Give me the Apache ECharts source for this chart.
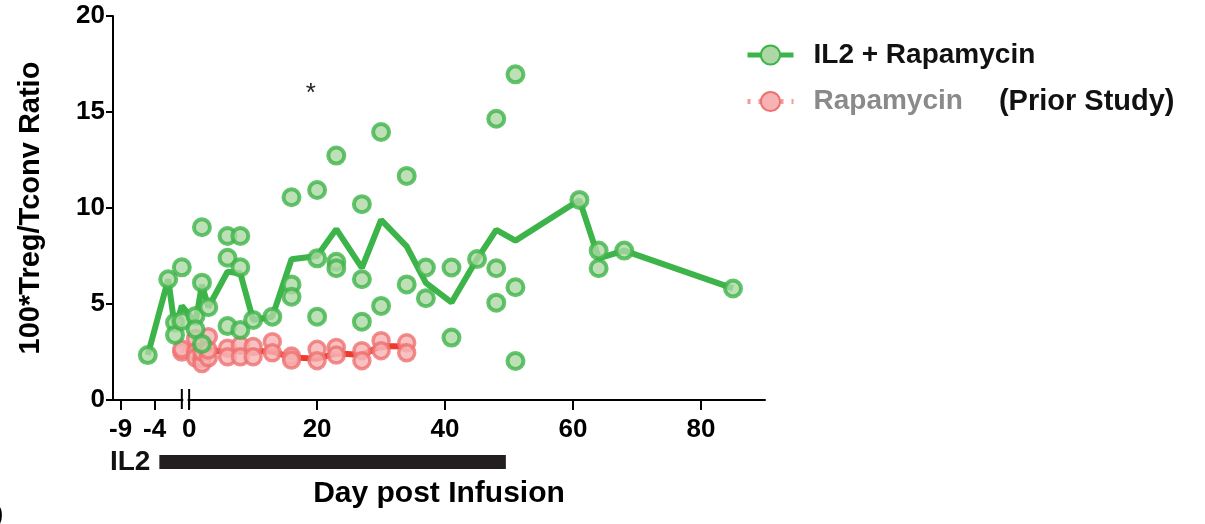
<!DOCTYPE html>
<html>
<head>
<meta charset="utf-8">
<script src="https://cdn.jsdelivr.net/npm/echarts@6.0.0/dist/echarts.min.js"></script>
<style>
html, body { margin: 0; padding: 0; background: #fff; }
#chart { width: 1205px; height: 524px; }
</style>
</head>
<body>
<div id="chart"></div>
<script>
// days before infusion live on a short segment left of the axis break
var preTickDays = [-9, -4];
var postTickDays = [0, 20, 40, 60, 80];

// IL2 + Rapamycin, single patients [day, ratio]
var greenPre = [[-5, 2.34], [-2, 6.29], [-1, 4.03], [-1, 3.39], [0, 6.91], [0, 4.11]];
var greenPost = [
  [1, 4.38], [1, 3.68], [2, 9.0], [2, 6.11], [2, 2.92], [3, 4.83],
  [6, 8.54], [6, 7.41], [6, 3.85], [8, 8.54], [8, 6.91], [8, 3.65], [10, 4.17],
  [13, 4.34], [16, 10.56], [16, 6.02], [16, 5.38], [20, 10.94], [20, 7.38], [20, 4.34],
  [23, 12.73], [23, 7.2], [23, 6.86], [27, 10.2], [27, 6.29], [27, 4.08],
  [30, 13.96], [30, 4.9], [34, 11.67], [34, 6.02], [37, 6.9], [37, 5.3],
  [41, 6.9], [41, 3.25], [45, 7.34], [48, 14.65], [48, 6.86], [48, 5.07],
  [51, 16.96], [51, 5.87], [51, 2.03], [61, 10.42], [64, 7.78], [64, 6.86],
  [68, 7.78], [85, 5.81]
];
// IL2 + Rapamycin, mean line
var greenMeanPre = [[-5, 2.34], [-2, 6.29], [-1, 3.7], [0, 4.9]];
var greenMeanPost = [
  [1, 4.03], [2, 6.0], [3, 4.83], [6, 6.68], [8, 6.6], [10, 4.17], [13, 4.34],
  [16, 7.33], [20, 7.5], [23, 8.9], [27, 6.88], [30, 9.38], [34, 8.0], [37, 6.1],
  [41, 5.08], [45, 7.34], [48, 8.86], [51, 8.3], [61, 10.42], [64, 7.38],
  [68, 7.78], [85, 5.81]
];

// Rapamycin (prior study)
var redPre = [[0, 2.5], [0, 2.65]];
var redPost = [
  [1, 3.2], [1, 2.5], [1, 2.2], [2, 2.15], [2, 1.9], [2, 2.5], [3, 3.3], [3, 2.2], [3, 2.6],
  [6, 2.7], [6, 2.25], [8, 2.85], [8, 2.25], [10, 2.78], [10, 2.25],
  [13, 3.04], [13, 2.46], [16, 2.29], [16, 2.08], [20, 2.64], [20, 2.05],
  [23, 2.74], [23, 2.34], [27, 2.57], [27, 2.05], [30, 3.09], [30, 2.57],
  [34, 2.98], [34, 2.46]
];
var redMeanPre = [[0, 2.6]];
var redMeanPost = [
  [1, 2.7], [2, 2.3], [3, 2.6], [6, 2.5], [8, 2.55], [10, 2.55], [13, 2.52],
  [16, 2.22], [20, 2.15], [23, 2.43], [27, 2.34], [30, 2.81], [34, 2.78]
];

var il2Start = -3.3;   // pre-infusion day
var il2End = 49.5;     // post-infusion day
var starMark = [19, 16.1];

var FONT = '"Liberation Sans", Arial, sans-serif';
var GREEN = '#3db449', GREEN_FILL = '#add8a5';
var RED_LINE = '#ee3a2c', RED_FILL = '#f7b3b3', RED_EDGE = '#ef7070';

function preX(d) { return 1.064 * d - 1.144; }
function postX(d) { return d; }
function toAxis(pre, post) {
  return pre.map(function (p) { return [preX(p[0]), p[1]]; })
    .concat(post.map(function (p) { return [postX(p[0]), p[1]]; }));
}

var xTickPos = preTickDays.map(preX).concat(postTickDays.map(postX));
var xTickText = preTickDays.concat(postTickDays);

var chart = echarts.init(document.getElementById('chart'));

var option = {
  animation: false,
  grid: { left: 113, right: 440, top: 16, bottom: 124 },
  legend: {
    orient: 'vertical',
    left: 740,
    top: 36,
    itemWidth: 46,
    itemHeight: 24,
    itemGap: 18,
    data: [
      { name: 'IL2 + Rapamycin', lineStyle: { width: 5 } },
      { name: 'Rapamycin', lineStyle: { type: [3, 8], color: '#f49a9a', width: 5 } }
    ],
    formatter: function (n) {
      return n === 'Rapamycin' ? '{g|Rapamycin}{b|(Prior Study)}' : '{a|' + n + '}';
    },
    textStyle: {
      fontFamily: FONT, fontSize: 28, fontWeight: 'bold', color: '#111',
      rich: {
        a: { fontFamily: FONT, fontSize: 28, fontWeight: 'bold', color: '#111', padding: [0, 0, 0, 15] },
        g: { fontFamily: FONT, fontSize: 28, fontWeight: 'bold', color: '#8a8a8a', padding: [0, 0, 0, 15] },
        b: { fontFamily: FONT, fontSize: 29, fontWeight: 'bold', color: '#111', padding: [0, 0, 0, 36] }
      }
    }
  },
  xAxis: {
    type: 'value',
    min: -11.9,
    max: 90,
    splitLine: { show: false },
    axisLine: { show: true, onZero: false, lineStyle: { color: '#000', width: 2 } },
    axisTick: { show: true, length: 10, customValues: xTickPos, lineStyle: { color: '#000', width: 2 } },
    axisLabel: {
      customValues: xTickPos,
      formatter: function (v) {
        var i = xTickPos.indexOf(v);
        return i >= 0 ? String(xTickText[i]) : '';
      },
      fontFamily: FONT, fontSize: 26, fontWeight: 'bold', color: '#000', margin: 17
    },
    name: 'Day post Infusion',
    nameLocation: 'middle',
    nameGap: 79,
    nameTextStyle: { fontFamily: FONT, fontSize: 30, fontWeight: 'bold', color: '#000' }
  },
  yAxis: {
    type: 'value',
    min: 0,
    max: 20,
    interval: 5,
    splitLine: { show: false },
    axisLine: { show: true, onZero: false, lineStyle: { color: '#000', width: 2 } },
    axisTick: { show: true, length: 7, lineStyle: { color: '#000', width: 2 } },
    axisLabel: { fontFamily: FONT, fontSize: 26, fontWeight: 'bold', color: '#000', margin: 8 },
    name: '100*Treg/Tconv Ratio',
    nameLocation: 'middle',
    nameRotate: 90,
    nameGap: 68,
    nameTextStyle: { fontFamily: FONT, fontSize: 29, fontWeight: 'bold', color: '#000' }
  },
  series: [
    {
      name: 'Rapamycin',
      type: 'line',
      z: 2,
      data: toAxis(redMeanPre, redMeanPost),
      symbol: 'circle',
      showSymbol: false,
      itemStyle: { color: RED_FILL, borderColor: RED_EDGE, borderWidth: 3 },
      lineStyle: { color: RED_LINE, width: 6 }
    },
    {
      name: 'IL2 + Rapamycin',
      type: 'line',
      z: 4,
      data: toAxis(greenMeanPre, greenMeanPost),
      symbol: 'circle',
      showSymbol: false,
      itemStyle: { color: GREEN_FILL, borderColor: GREEN, borderWidth: 3.5 },
      lineStyle: { color: GREEN, width: 6 }
    },
    {
      name: 'Rapamycin',
      type: 'scatter',
      z: 3,
      data: toAxis(redPre, redPost),
      symbolSize: 16,
      itemStyle: { color: RED_FILL, borderColor: RED_EDGE, borderWidth: 3.5, opacity: 0.8 }
    },
    {
      name: 'IL2 + Rapamycin',
      type: 'scatter',
      z: 5,
      data: toAxis(greenPre, greenPost),
      symbolSize: 16,
      itemStyle: { color: GREEN_FILL, borderColor: GREEN, borderWidth: 4 }
    }
  ]
};

chart.setOption(option);

// axis break, IL2 bar and the significance star, placed through the axis scale
function px(u, v) { return chart.convertToPixel({ gridIndex: 0 }, [u, v]); }
var bL = px(preX(0), 0), bR = px(postX(0), 0);
var barL = px(preX(il2Start), 0), barR = px(postX(il2End), 0);
var star = px(postX(starMark[0]), starMark[1]);
var y0 = bL[1];

chart.setOption({
  graphic: [
    { type: 'rect', z: 100, shape: { x: bL[0] + 1.5, y: y0 - 3, width: bR[0] - bL[0] - 3, height: 6 }, style: { fill: '#fff' } },
    { type: 'line', z: 101, shape: { x1: bL[0], y1: y0 - 11, x2: bL[0], y2: y0 + 9 }, style: { stroke: '#000', lineWidth: 2 } },
    { type: 'line', z: 101, shape: { x1: bR[0], y1: y0 - 11, x2: bR[0], y2: y0 + 9 }, style: { stroke: '#000', lineWidth: 2 } },
    { type: 'rect', z: 100, shape: { x: barL[0], y: 455, width: barR[0] - barL[0], height: 14 }, style: { fill: '#231f20' } },
    { type: 'text', z: 100, x: barL[0] - 9, y: 462, style: { text: 'IL2', font: 'bold 28px ' + FONT, fill: '#111', align: 'right', verticalAlign: 'middle' } },
    { type: 'text', z: 100, x: star[0], y: star[1] + 3, style: { text: '*', font: '26px ' + FONT, fill: '#222', align: 'center', verticalAlign: 'middle' } },
    { type: 'text', z: 100, x: -28, y: 497, style: { text: 'D', font: 'bold 44px ' + FONT, fill: '#000' } }
  ]
});
</script>
</body>
</html>
